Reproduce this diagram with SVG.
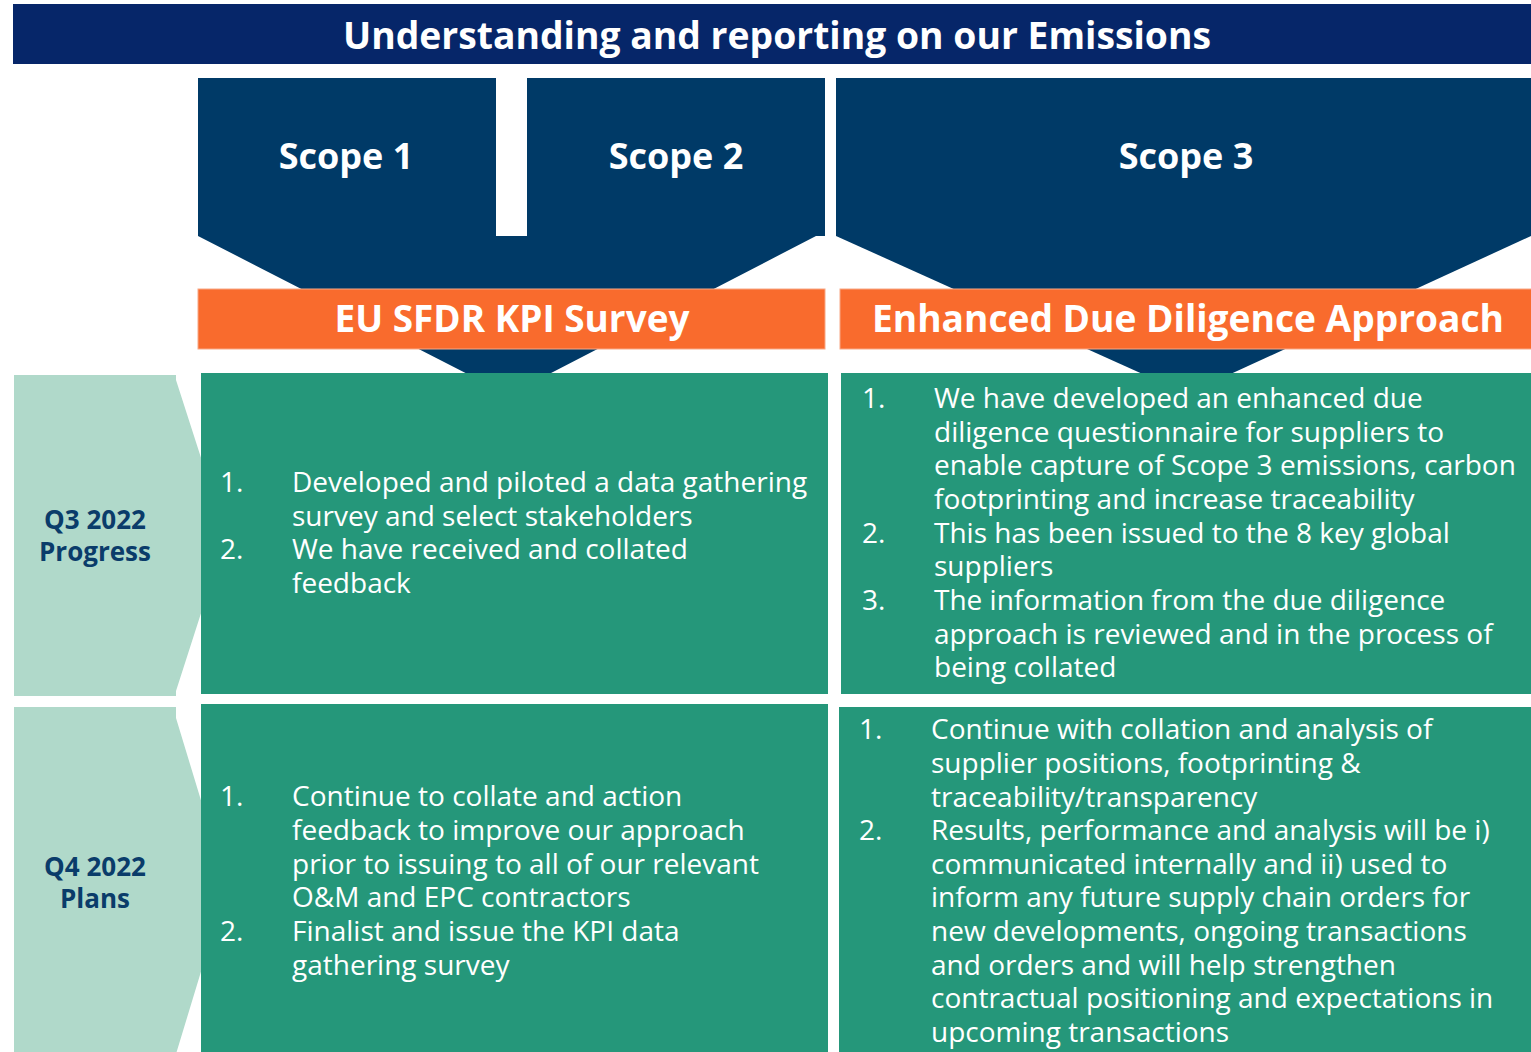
<svg xmlns="http://www.w3.org/2000/svg" width="1531" height="1052" viewBox="0 0 1531 1052">
<style>
.navy{fill:#003a67}
.orange{fill:#f96b2d;stroke:#f8a886;stroke-width:1}
.green{fill:#25977a}
.pale{fill:#b0d9ca}
.head{font-family:"Open Sans","Liberation Sans",sans-serif;font-weight:700;fill:#ffffff;text-anchor:middle}
.lbl{font-family:"Open Sans","Liberation Sans",sans-serif;font-weight:700;font-size:26px;fill:#0a3c6a;text-anchor:middle}
.body{font-family:"Open Sans","Liberation Sans",sans-serif;font-size:28px;fill:#ffffff}
</style>
<rect width="1531" height="1052" fill="#ffffff"/>
<g id="title">
<rect x="13" y="4" width="1518" height="60" fill="#062669"/>
<text class="head" x="777" y="49" font-size="38" textLength="868" lengthAdjust="spacingAndGlyphs">Understanding and reporting on our Emissions</text>
</g>
<g id="scope12">
<polygon class="navy" points="198,78 825,78 825,236 816,236 508.5,395 198,236"/>
<rect x="496" y="78" width="31" height="158" fill="#ffffff"/>
<g id="scope1"><text class="head" x="346" y="169" font-size="36">Scope 1</text></g>
<g id="scope2"><text class="head" x="676" y="169" font-size="36">Scope 2</text></g>
</g>
<g id="scope3">
<polygon class="navy" points="836,78 1531,78 1531,236 1187,394 836,236"/>
<text class="head" x="1186" y="169" font-size="36">Scope 3</text>
</g>
<g id="eu-sfdr">
<rect class="orange" x="198" y="289" width="627" height="60"/>
<text class="head" x="512" y="332" font-size="37" textLength="355" lengthAdjust="spacingAndGlyphs">EU SFDR KPI Survey</text>
</g>
<g id="due-diligence">
<rect class="orange" x="840" y="289" width="692" height="60"/>
<text class="head" x="1188" y="332" font-size="37" textLength="632" lengthAdjust="spacingAndGlyphs">Enhanced Due Diligence Approach</text>
</g>
<g id="q3-label">
<polygon class="pale" points="14,375 176,375 176,380 226,535.5 176,691 176,696 14,696"/>
<text class="lbl" x="95" y="529">Q3 2022</text>
<text class="lbl" x="95" y="561">Progress</text>
</g>
<g id="q4-label">
<polygon class="pale" points="14,707 176,707 176,718 227,886 176,1054 14,1054"/>
<text class="lbl" x="95" y="876">Q4 2022</text>
<text class="lbl" x="95" y="908">Plans</text>
</g>
<g id="q3-sfdr">
<rect class="green" x="201" y="373" width="627" height="321"/>
<text class="body" x="220" y="492">1.</text>
<text class="body" x="292" y="492">Developed and piloted a data gathering</text>
<text class="body" x="292" y="526">survey and select stakeholders</text>
<text class="body" x="220" y="559">2.</text>
<text class="body" x="292" y="559">We have received and collated</text>
<text class="body" x="292" y="593">feedback</text>
</g>
<g id="q3-dd">
<rect class="green" x="841" y="373" width="690" height="321"/>
<text class="body" x="862" y="408">1.</text>
<text class="body" x="934" y="408">We have developed an enhanced due</text>
<text class="body" x="934" y="442">diligence questionnaire for suppliers to</text>
<text class="body" x="934" y="475">enable capture of Scope 3 emissions, carbon</text>
<text class="body" x="934" y="509">footprinting and increase traceability</text>
<text class="body" x="862" y="543">2.</text>
<text class="body" x="934" y="543">This has been issued to the 8 key global</text>
<text class="body" x="934" y="576">suppliers</text>
<text class="body" x="862" y="610">3.</text>
<text class="body" x="934" y="610">The information from the due diligence</text>
<text class="body" x="934" y="644">approach is reviewed and in the process of</text>
<text class="body" x="934" y="677">being collated</text>
</g>
<g id="q4-sfdr">
<rect class="green" x="201" y="704" width="627" height="348"/>
<text class="body" x="220" y="806">1.</text>
<text class="body" x="292" y="806">Continue to collate and action</text>
<text class="body" x="292" y="840">feedback to improve our approach</text>
<text class="body" x="292" y="874">prior to issuing to all of our relevant</text>
<text class="body" x="292" y="907">O&amp;M and EPC contractors</text>
<text class="body" x="220" y="941">2.</text>
<text class="body" x="292" y="941">Finalist and issue the KPI data</text>
<text class="body" x="292" y="975">gathering survey</text>
</g>
<g id="q4-dd">
<rect class="green" x="839" y="707" width="692" height="345"/>
<text class="body" x="859" y="739">1.</text>
<text class="body" x="931" y="739">Continue with collation and analysis of</text>
<text class="body" x="931" y="773">supplier positions, footprinting &amp;</text>
<text class="body" x="931" y="807">traceability/transparency</text>
<text class="body" x="859" y="840">2.</text>
<text class="body" x="931" y="840">Results, performance and analysis will be i)</text>
<text class="body" x="931" y="874">communicated internally and ii) used to</text>
<text class="body" x="931" y="907">inform any future supply chain orders for</text>
<text class="body" x="931" y="941">new developments, ongoing transactions</text>
<text class="body" x="931" y="975">and orders and will help strengthen</text>
<text class="body" x="931" y="1008">contractual positioning and expectations in</text>
<text class="body" x="931" y="1042">upcoming transactions</text>
</g>
<g id="connectors"></g>
</svg>
